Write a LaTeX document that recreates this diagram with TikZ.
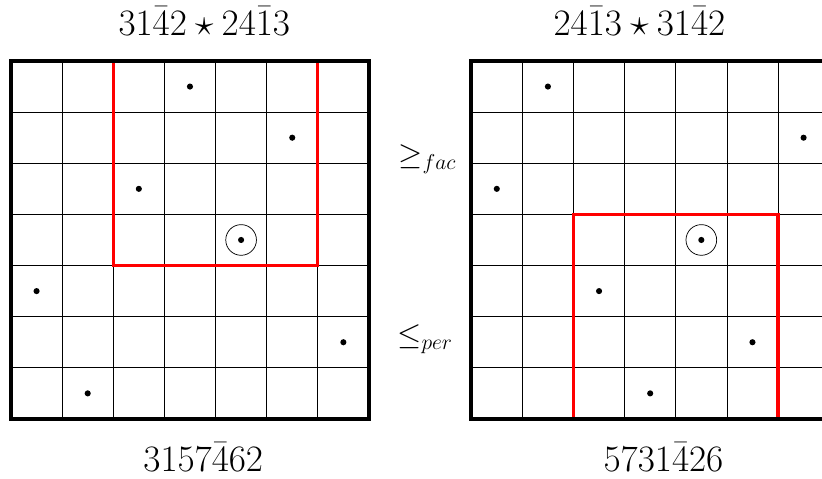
\documentclass[tikz,border=0pt]{standalone}
\usepackage{amsmath}
\usepackage{tikz}
\usepackage{xcolor}
\usetikzlibrary{positioning}

\begin{document}
\begin{tikzpicture}[
    cellline/.style={thin, color=black},
    frame/.style={line width=2pt, line cap=rect},
    zone/.style={line width=1.8pt, color=red},
    pt/.style={circle, fill=black, inner sep=0pt, minimum size=0.12cm},
    ring/.style={circle, draw, thin, inner sep=0pt, minimum size=0.6cm},
    word/.style={font=\huge, anchor=base, inner sep=0pt},
    rel/.style={font=\LARGE, anchor=base west, inner sep=0pt}
]
  \useasboundingbox (-0.215,-1.173) rectangle (15.86,8.193);

  % Left diagram
  \draw[cellline] (0,0) grid (7,7);
  \draw[zone] (2,7) -- (2,3) -- (6,3) -- (6,7);
  \draw[frame] (0,0) rectangle (7,7);
  \foreach \v [count=\c] in {3,1,5,7,4,6,2}
    \node[pt] (l\c) at (\c-0.5,\v-0.5) {};
  \node[ring] (lmark) at (l5) {};
  \node[word] (ltop) at (3.78,7.49) {$31\bar{4}2 \star 24\bar{1}3$};
  \node[word] (lbot) at (3.76,-1.02) {$3157\bar{4}62$};

  % Right diagram
  \draw[cellline] (9,0) grid (16,7);
  \draw[zone] (11,0) -- (11,4) -- (15,4) -- (15,0);
  \draw[frame] (9,0) rectangle (16,7);
  \foreach \v [count=\c] in {5,7,3,1,4,2,6}
    \node[pt] (r\c) at (8.5+\c,\v-0.5) {};
  \node[ring] (rmark) at (r5) {};
  \node[word] (rtop) at (12.29,7.49) {$24\bar{1}3 \star 31\bar{4}2$};
  \node[word] (rbot) at (12.76,-1.02) {$5731\bar{4}26$};

  % Orders between them
  \node[rel] (fac) at (7.57,4.97) {$\geq_{fac}$};
  \node[rel] (per) at (7.55,1.45) {$\leq_{per}$};
\end{tikzpicture}
\end{document}
